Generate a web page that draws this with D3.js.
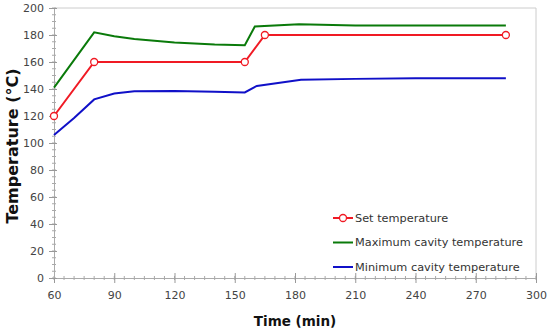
<!DOCTYPE html>
<html>
<head>
<meta charset="utf-8">
<script src="https://cdn.jsdelivr.net/npm/d3@7"></script>
<style>
  body { margin: 0; background: #fff; }
  text { font-family: "DejaVu Sans", sans-serif; }
</style>
</head>
<body>
<div id="chart"></div>
<script>
// data
var setTime = [60, 80, 155, 165, 285];
var setTemp = [120, 160, 160, 180, 180];

var maxTime = [60, 80, 90, 100, 120, 140, 155, 160, 182, 210, 240, 270, 285];
var maxTemp = [141, 182, 179, 177, 174.5, 173, 172.5, 186.3, 188, 187, 187, 187, 187];

var minTime = [60, 70, 80, 90, 100, 120, 140, 155, 161, 183, 210, 240, 285];
var minTemp = [106, 118.5, 132.3, 136.7, 138.3, 138.5, 138, 137.5, 142.3, 146.8, 147.5, 148, 148];

var xTicks = [60, 90, 120, 150, 180, 210, 240, 270, 300];
var yTicks = [0, 20, 40, 60, 80, 100, 120, 140, 160, 180, 200];

var svgWidth = 550;
var svgHeight = 333;

var margin = { top: 8, right: 14, bottom: 55, left: 54 };
var width = svgWidth - margin.left - margin.right;
var height = svgHeight - margin.top - margin.bottom;

var svg = d3.select("#chart")
  .append("svg")
  .attr("width", svgWidth)
  .attr("height", svgHeight);

var chartGroup = svg.append("g")
  .attr("transform", `translate(${margin.left}, ${margin.top})`);

var xScale = d3.scaleLinear().domain([60, 300]).range([0, width]);
var yScale = d3.scaleLinear().domain([0, 200]).range([height, 0]);

var axisColor = "#aaa";

// frame top / right
chartGroup.append("line")
  .attr("x1", 0).attr("x2", width).attr("y1", 0).attr("y2", 0)
  .attr("stroke", "#ccc");
chartGroup.append("line")
  .attr("x1", width).attr("x2", width).attr("y1", 0).attr("y2", height)
  .attr("stroke", "#ccc");

// minor ticks
var xMinor = d3.range(60, 301, 5);
var yMinor = d3.range(0, 201, 5);
chartGroup.selectAll(".xminor").data(xMinor).enter().append("line")
  .attr("x1", d => xScale(d)).attr("x2", d => xScale(d))
  .attr("y1", height - 2).attr("y2", height + 2)
  .attr("stroke", axisColor);
chartGroup.selectAll(".yminor").data(yMinor).enter().append("line")
  .attr("y1", d => yScale(d)).attr("y2", d => yScale(d))
  .attr("x1", -2).attr("x2", 2)
  .attr("stroke", axisColor);

// axes
var xAxis = d3.axisBottom(xScale).tickValues(xTicks).tickSize(4).tickPadding(9);
var yAxis = d3.axisLeft(yScale).tickValues(yTicks).tickSize(4).tickPadding(6);

var gx = chartGroup.append("g")
  .attr("transform", `translate(0, ${height})`)
  .call(xAxis);
var gy = chartGroup.append("g").call(yAxis);

[gx, gy].forEach(function(g) {
  g.select(".domain").attr("stroke", axisColor);
  g.selectAll(".tick line").attr("stroke", "#999");
  g.selectAll(".tick text")
    .attr("fill", "#444")
    .style("font-size", "11px");
});
gx.selectAll(".tick line").attr("y1", -5).attr("y2", 5);
gy.selectAll(".tick line").attr("x1", -5).attr("x2", 3);

// lines
var line = d3.line().x(d => xScale(d[0])).y(d => yScale(d[1]));

var series = [
  { name: "Maximum cavity temperature", color: "#0a7a0a", pts: d3.zip(maxTime, maxTemp) },
  { name: "Minimum cavity temperature", color: "#1010c8", pts: d3.zip(minTime, minTemp) },
  { name: "Set temperature", color: "#f01a24", pts: d3.zip(setTime, setTemp) }
];

chartGroup.selectAll(".series").data(series).enter().append("path")
  .attr("d", d => line(d.pts))
  .attr("fill", "none")
  .attr("stroke", d => d.color)
  .attr("stroke-width", 2);

chartGroup.selectAll(".marker").data(d3.zip(setTime, setTemp)).enter().append("circle")
  .attr("cx", d => xScale(d[0]))
  .attr("cy", d => yScale(d[1]))
  .attr("r", 3.5)
  .attr("fill", "#fff")
  .attr("stroke", "#f01a24")
  .attr("stroke-width", 1.3);

// legend
var legendItems = [series[2], series[0], series[1]];
var legend = svg.append("g").attr("transform", "translate(333, 218)");
legendItems.forEach(function(d, i) {
  var g = legend.append("g").attr("transform", `translate(0, ${i * 24.5})`);
  g.append("line").attr("x1", 0).attr("x2", 20).attr("y1", 0).attr("y2", 0)
    .attr("stroke", d.color).attr("stroke-width", 2);
  if (i === 0) {
    g.append("circle").attr("cx", 10).attr("cy", 0).attr("r", 3.5)
      .attr("fill", "#fff").attr("stroke", d.color).attr("stroke-width", 1.3);
  }
  g.append("text").attr("x", 22).attr("y", 0).attr("dy", "0.35em")
    .attr("fill", "#333").style("font-size", "11.3px")
    .text(d.name);
});

// axis labels
svg.append("text")
  .attr("transform", `translate(18, ${146}) rotate(-90)`)
  .attr("text-anchor", "middle")
  .style("font-size", "16px").style("font-weight", "bold")
  .attr("fill", "#111")
  .text("Temperature (°C)");

svg.append("text")
  .attr("x", 295)
  .attr("y", 326)
  .attr("text-anchor", "middle")
  .style("font-size", "13.5px").style("font-weight", "bold")
  .attr("fill", "#111")
  .text("Time (min)");
</script>
</body>
</html>
